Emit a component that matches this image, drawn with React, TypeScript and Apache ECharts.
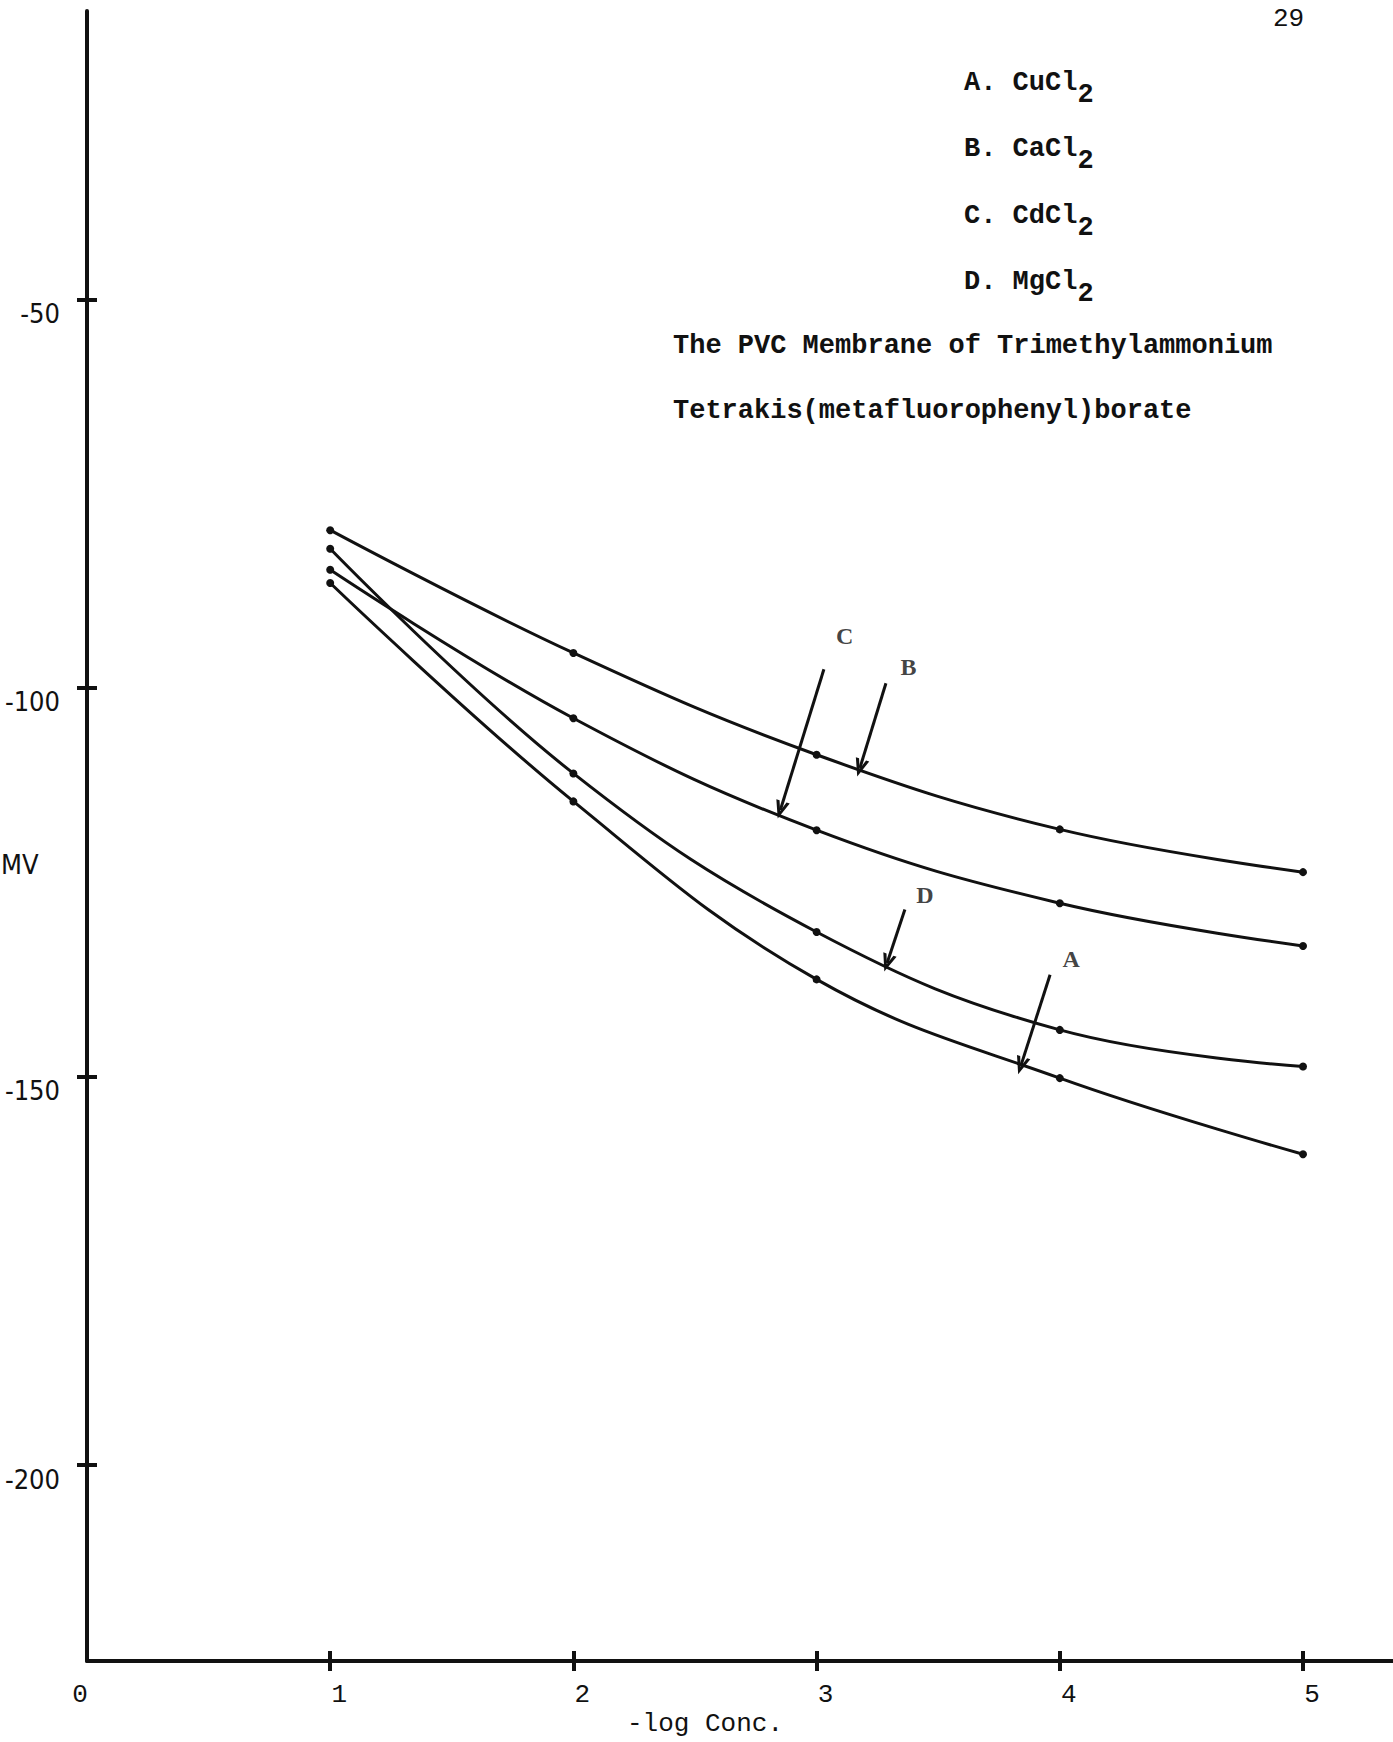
import React, { useEffect, useRef } from "react";
import * as echarts from "echarts";

// ---- data ----
const xValues = [1, 2, 3, 4, 5];
const seriesA = [-86.5, -114.6, -137.5, -150.2, -160.0]; // CuCl2
const seriesB = [-79.7, -95.5, -108.6, -118.2, -123.7]; // CaCl2
const seriesC = [-84.8, -103.9, -118.3, -127.7, -133.2]; // CdCl2
const seriesD = [-82.1, -111.0, -131.4, -144.0, -148.7]; // MgCl2

const yTicks = [-200, -150, -100, -50];
const xTicks = [1, 2, 3, 4, 5];
const xLabelValues = [0, 1, 2, 3, 4, 5];

const legendLabels = ["A. CuCl", "B. CaCl", "C. CdCl", "D. MgCl"];
const legendSub = "2";
const titleLines = [
  "The PVC Membrane of Trimethylammonium",
  "Tetrakis(metafluorophenyl)borate",
];
const pageNumber = "29";
const yName = "MV";
const xName = "-log Conc.";

// annotation arrows (data coordinates)
const arrowLetters = ["C", "B", "D", "A"];
const arrowLabelPos = [
  [3.115, -93.3],
  [3.378, -97.3],
  [3.445, -126.6],
  [4.047, -134.9],
];
const arrowFrom = [
  [3.030, -97.6],
  [3.285, -99.4],
  [3.363, -128.5],
  [3.960, -136.9],
];
const arrowTo = [
  [2.851, -115.7],
  [3.178, -110.3],
  [3.290, -135.4],
  [3.840, -148.6],
];

const X_MIN = 0;
const X_MAX = 5.37;
const Y_MIN = -225.2;
const Y_MAX = -12.9;

const INK = "#111111";
const MONO = '"Liberation Mono", "DejaVu Sans Mono", monospace';
const NARROW = '"Liberation Sans Narrow", "DejaVu Sans Condensed", "Liberation Sans", sans-serif';
const SERIF = '"Liberation Serif", "DejaVu Serif", serif';

function lineSeries(name: string, values: number[]) {
  return {
    name,
    type: "line",
    xAxisIndex: 0,
    yAxisIndex: 0,
    data: xValues.map((x, i) => [x, values[i]]),
    smooth: 0.4,
    symbol: "circle",
    symbolSize: 8,
    itemStyle: { color: INK },
    lineStyle: { color: INK, width: 3 },
    silent: true,
  };
}

function buildOption() {
  const tickStyle = { color: INK, width: 4 };
  const graphics: any[] = [];
  legendLabels.forEach((t, i) => {
    const y = 83 + i * 66.3;
    graphics.push({
      type: "text",
      x: 964,
      y,
      style: { text: t, font: `bold 27px ${MONO}`, fill: INK, verticalAlign: "middle", align: "left" },
    });
    graphics.push({
      type: "text",
      x: 964 + t.length * 16.2,
      y: y + 12,
      style: { text: legendSub, font: `bold 27px ${MONO}`, fill: INK, verticalAlign: "middle", align: "left" },
    });
  });
  titleLines.forEach((t, i) => {
    graphics.push({
      type: "text",
      x: 673,
      y: 346 + i * 64.5,
      style: { text: t, font: `bold 27px ${MONO}`, fill: INK, verticalAlign: "middle", align: "left" },
    });
  });
  graphics.push({
    type: "text",
    x: 1273,
    y: 19,
    style: { text: pageNumber, font: `26px ${MONO}`, fill: INK, verticalAlign: "middle", align: "left" },
  });
  graphics.push({
    type: "text",
    x: 1,
    y: 864,
    style: { text: yName, font: `27px ${NARROW}`, fill: INK, verticalAlign: "middle", align: "left" },
  });
  graphics.push({
    type: "text",
    x: 705,
    y: 1724,
    style: { text: xName, font: `26px ${MONO}`, fill: INK, verticalAlign: "middle", align: "center" },
  });

  return {
    animation: false,
    backgroundColor: "#ffffff",
    grid: { left: 87, right: 0, top: 11, bottom: 81, containLabel: false, outerBoundsMode: "none" },
    xAxis: [
      {
        type: "value",
        min: X_MIN,
        max: X_MAX,
        position: "bottom",
        axisLine: { show: true, onZero: false, lineStyle: { color: INK, width: 4 } },
        axisTick: { show: true, inside: false, length: 10, customValues: xTicks, lineStyle: tickStyle },
        axisLabel: {
          show: true,
          customValues: xLabelValues,
          margin: 21,
          formatter: (v: number) => (v === 0 ? `{z|${v}}` : `{n|${v}}`),
          rich: {
            z: { fontFamily: MONO, fontSize: 26, color: INK, padding: [0, 14, 0, 0] },
            n: { fontFamily: MONO, fontSize: 26, color: INK, padding: [0, 0, 0, 18] },
          },
        },
        splitLine: { show: false },
      },
      {
        type: "value",
        min: X_MIN,
        max: X_MAX,
        position: "bottom",
        axisLine: { show: false, onZero: false },
        axisTick: { show: true, inside: true, length: 10, customValues: xTicks, lineStyle: tickStyle },
        axisLabel: { show: false },
        splitLine: { show: false },
      },
    ],
    yAxis: [
      {
        type: "value",
        min: Y_MIN,
        max: Y_MAX,
        position: "left",
        axisLine: { show: true, onZero: false, lineStyle: { color: INK, width: 4 } },
        axisTick: { show: true, inside: false, length: 10, customValues: yTicks, lineStyle: tickStyle },
        axisLabel: {
          show: true,
          customValues: yTicks,
          margin: 27,
          padding: [28, 0, 0, 0],
          verticalAlign: "middle",
          formatter: (v: number) => `{n|${v}}`,
          rich: {
            n: { fontFamily: NARROW, fontSize: 27, color: INK },
          },
        },
        splitLine: { show: false },
      },
      {
        type: "value",
        min: Y_MIN,
        max: Y_MAX,
        position: "left",
        axisLine: { show: false, onZero: false },
        axisTick: { show: true, inside: true, length: 10, customValues: yTicks, lineStyle: tickStyle },
        axisLabel: { show: false },
        splitLine: { show: false },
      },
    ],
    series: [
      lineSeries("CuCl2", seriesA),
      lineSeries("CaCl2", seriesB),
      lineSeries("CdCl2", seriesC),
      lineSeries("MgCl2", seriesD),
      {
        name: "annotations",
        type: "scatter",
        xAxisIndex: 0,
        yAxisIndex: 0,
        silent: true,
        symbolSize: 1,
        itemStyle: { color: "rgba(0,0,0,0)" },
        data: arrowLetters.map((l, i) => [arrowLabelPos[i][0], arrowLabelPos[i][1], l]),
        label: {
          show: true,
          position: "inside",
          formatter: (p: any) => p.value[2],
          fontFamily: SERIF,
          fontSize: 24,
          fontWeight: "bold",
          color: INK,
        },
        markLine: {
          silent: true,
          symbol: ["none", "path://M5 0 L10 14 L7.6 14 L5 6.2 L2.4 14 L0 14 Z"],
          symbolSize: [14, 18],
          label: { show: false },
          lineStyle: { color: INK, width: 3, type: "solid" },
          emphasis: { disabled: true },
          data: arrowFrom.map((f, i) => [{ coord: f }, { coord: arrowTo[i] }]),
        },
      },
    ],
    graphic: graphics,
  };
}

export default function App() {
  const ref = useRef<HTMLDivElement>(null);
  useEffect(() => {
    if (!ref.current) return;
    const chart = echarts.init(ref.current, null, { renderer: "svg" });
    chart.setOption(buildOption() as any);
    return () => chart.dispose();
  }, []);
  return (
    <div
      ref={ref}
      style={{ position: "absolute", left: 0, top: 0, width: 1393, height: 1742, background: "#fff" }}
    />
  );
}
